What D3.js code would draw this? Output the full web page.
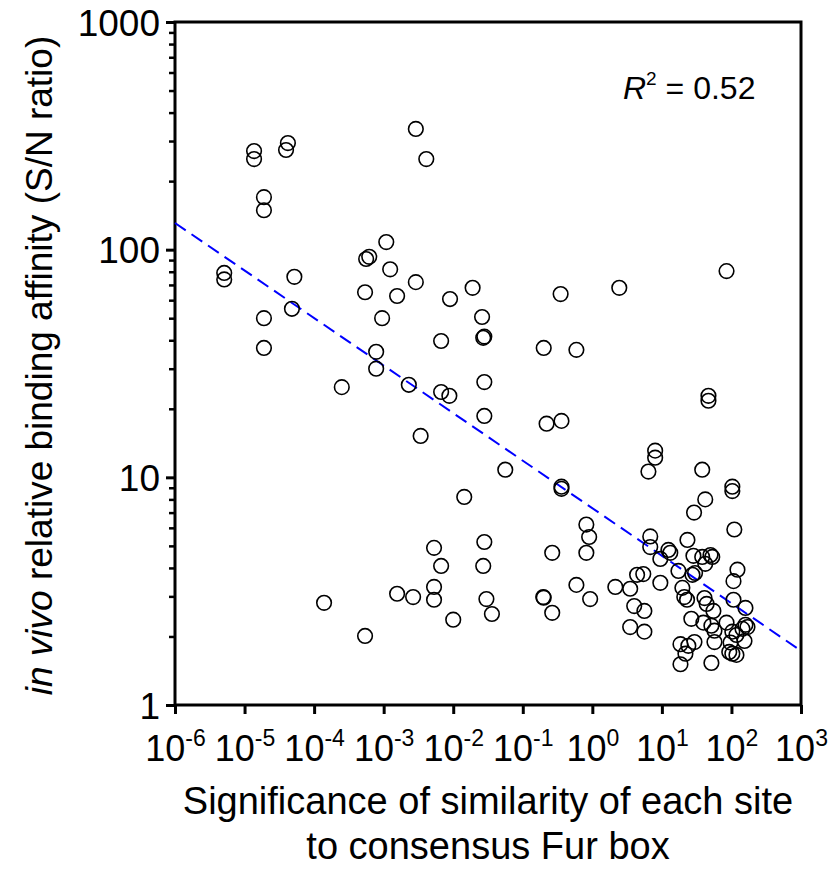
<!DOCTYPE html>
<html lang="en">
<head>
<meta charset="utf-8">
<style>
  body { margin: 0; background: white; }
  svg { font-family: 'Liberation Sans', Arial, sans-serif; }
  .axis path { display: none; }
  .axis line { stroke: black; stroke-width: 3px; }
  .axis text { fill: black; }
  .dot { fill: none; stroke: black; stroke-width: 1.6px; }
  .fit { fill: none; stroke: #0000ff; stroke-width: 2px; stroke-dasharray: 13,7; }
</style>
</head>
<body>
<svg width="833" height="872"></svg>
<script src="https://d3js.org/d3.v7.min.js"></script>
<script>
// significance of similarity (x) and S/N ratio (y)
const sigValues = [
  1.37e-5, 1.37e-5, 4.2e-5, 3.95e-5, 1.9e-5, 1.9e-5, 5.1e-6, 5.1e-6, 5.2e-5, 4.8e-5,
  1.9e-5, 1.9e-5, 1.09e-3, 5.6e-4, 6.2e-4, 1.24e-3, 5.4e-4, 9.5e-4, 7.8e-4, 7.8e-4,
  2.5e-4, 2.9e-3, 4.1e-3, 2.9e-3, 1.56e-3, 9.0e-3, 1.9e-2, 2.6e-2, 2.7e-2, 2.8e-2,
  6.7e-3, 0.35, 0.2, 0.59, 2.8e-2, 2.3e-3, 6.7e-3, 8.8e-3, 2.8e-2, 3.4e-3,
  0.22, 0.36, 2.44, 85, 46.7, 46.7, 5.6e-2, 1.44e-2, 0.36, 0.36,
  8.0, 8.0, 6.4, 38, 103, 103, 42, 29, 110, 0.82,
  0.9, 0.82, 0.265, 6.8, 6.8, 2.8e-2, 5.3e-3, 6.7e-3, 2.7e-2, 5.3e-3,
  5.3e-3, 1.56e-3, 2.65e-3, 1.0e-2, 3.0e-2, 3.6e-2, 0.197, 0.2, 0.265, 0.59,
  0.93, 1.39e-4, 5.4e-4, 9.5, 12.4, 13.2, 23.3, 28.4, 38, 50,
  53, 42, 17.3, 27.5, 30, 4.4, 5.4, 9.5, 2.14, 3.5,
  4.0, 5.6, 3.5, 5.6, 19.7, 21, 23, 41, 44, 55,
  107, 159, 107, 122, 26.5, 39.5, 51.5, 57, 57, 85,
  103, 118, 144, 159, 170, 154, 93, 103, 118, 97,
  18.5, 24, 29.4, 21.8, 18.5, 51.5
];
const snValues = [
  271, 250, 294, 274, 170, 149, 79, 74, 76, 55,
  50, 37, 108, 91, 93, 82, 65, 50, 35.6, 30,
  24.9, 339, 250, 72, 62.6, 60.7, 68, 50.6, 41, 41.5,
  39.7, 63.8, 37, 36.3, 26.2, 25.5, 23.7, 22.8, 18.6, 15.2,
  17.2, 17.7, 68, 80.5, 22.8, 21.7, 10.8, 8.2, 9.1, 8.9,
  13.1, 12.2, 10.6, 10.8, 9.1, 8.7, 8.0, 7.0, 5.9, 6.2,
  5.47, 4.66, 4.66, 5.5, 4.94, 5.2, 4.9, 4.08, 4.08, 3.3,
  2.9, 3.08, 2.98, 2.37, 2.92, 2.51, 2.98, 2.96, 2.54, 3.37,
  2.92, 2.81, 2.01, 4.38, 4.8, 4.66, 5.31, 4.52, 4.47, 4.56,
  4.47, 4.17, 3.88, 3.73, 3.8, 3.73, 3.76, 3.44, 3.3, 3.24,
  2.72, 2.59, 2.2, 2.1, 3.27, 2.98, 2.9, 2.95, 2.78, 2.59,
  2.9, 2.67, 3.5, 3.93, 2.39, 2.3, 2.23, 2.12, 1.89, 2.3,
  2.1, 2.03, 2.16, 2.25, 2.2, 1.91, 1.71, 1.68, 1.66, 1.88,
  1.85, 1.82, 1.89, 1.68, 1.51, 1.53
];
// regression line end points (x, y)
const fitX = [1e-6, 1e3];
const fitY = [131, 1.73];

const xTicks = [1e-6, 1e-5, 1e-4, 1e-3, 1e-2, 1e-1, 1e0, 1e1, 1e2, 1e3];
const xTickExps = ["-6", "-5", "-4", "-3", "-2", "-1", "0", "1", "2", "3"];
const yTicks = [1, 10, 100, 1000];
const yTickLabels = ["1", "10", "100", "1000"];
const yMinor = [2,3,4,5,6,7,8,9,20,30,40,50,60,70,80,90,200,300,400,500,600,700,800,900];

const margin = { left: 175, right: 32, top: 22, bottom: 167 };
const width = 833, height = 872;

const svg = d3.select("svg");

const x = d3.scaleLog().domain([1e-6, 1e3]).range([margin.left, width - margin.right]);
const y = d3.scaleLog().domain([1, 1000]).range([height - margin.bottom, margin.top]);

// y axis minor ticks
svg.append("g")
  .attr("class", "axis")
  .attr("transform", "translate(" + margin.left + ",0)")
  .call(d3.axisLeft(y).tickValues(yMinor).tickSize(6).tickSizeOuter(0).tickFormat(""))
  .selectAll("line").style("stroke-width", "2.5px");

// y axis major ticks
svg.append("g")
  .attr("class", "axis")
  .attr("transform", "translate(" + margin.left + ",0)")
  .call(d3.axisLeft(y).tickValues(yTicks).tickSize(9).tickSizeOuter(0).tickPadding(6)
    .tickFormat((d, i) => yTickLabels[i]))
  .selectAll("text").style("font-size", "37px").attr("dy", "0.36em");

// x axis
const xAxisG = svg.append("g")
  .attr("class", "axis")
  .attr("transform", "translate(0," + (height - margin.bottom) + ")")
  .call(d3.axisBottom(x).tickValues(xTicks).tickSize(9).tickSizeOuter(0).tickFormat(""));

xAxisG.selectAll(".tick").each(function (d, i) {
  const t = d3.select(this).append("text")
    .attr("y", 56)
    .attr("text-anchor", "middle")
    .style("font-size", "36px");
  t.append("tspan").text("10");
  t.append("tspan").attr("dy", -15).style("font-size", "23px").text(xTickExps[i]);
});

// frame
svg.append("rect")
  .attr("x", margin.left)
  .attr("y", margin.top)
  .attr("width", width - margin.right - margin.left)
  .attr("height", height - margin.bottom - margin.top)
  .attr("fill", "none")
  .attr("stroke", "black")
  .attr("stroke-width", 3);

// regression line
svg.append("line")
  .attr("class", "fit")
  .attr("x1", x(fitX[0])).attr("y1", y(fitY[0]))
  .attr("x2", x(fitX[1])).attr("y2", y(fitY[1]));

// points
svg.append("g").selectAll("circle")
  .data(d3.range(sigValues.length))
  .join("circle")
  .attr("class", "dot")
  .attr("cx", i => x(sigValues[i]))
  .attr("cy", i => y(snValues[i]))
  .attr("r", 7.3);

// R^2 annotation
const r2 = svg.append("text")
  .attr("x", 623).attr("y", 99)
  .style("font-size", "32px");
r2.append("tspan").style("font-style", "italic").text("R");
r2.append("tspan").attr("dy", -14).style("font-size", "19px").text("2");
r2.append("tspan").attr("dy", 14).text(" = 0.52");

// y axis title
const yTitle = svg.append("text")
  .attr("transform", "translate(52," + ((margin.top + height - margin.bottom) / 2 + 2) + ") rotate(-90)")
  .attr("text-anchor", "middle")
  .style("font-size", "37px");
yTitle.append("tspan").style("font-style", "italic").text("in vivo");
yTitle.append("tspan").text(" relative binding affinity (S/N ratio)");

// x axis title
svg.append("text")
  .attr("x", (margin.left + width - margin.right) / 2)
  .attr("y", 814)
  .attr("text-anchor", "middle")
  .style("font-size", "38px")
  .text("Significance of similarity of each site");
svg.append("text")
  .attr("x", (margin.left + width - margin.right) / 2)
  .attr("y", 859)
  .attr("text-anchor", "middle")
  .style("font-size", "38px")
  .text("to consensus Fur box");
</script>
</body>
</html>
